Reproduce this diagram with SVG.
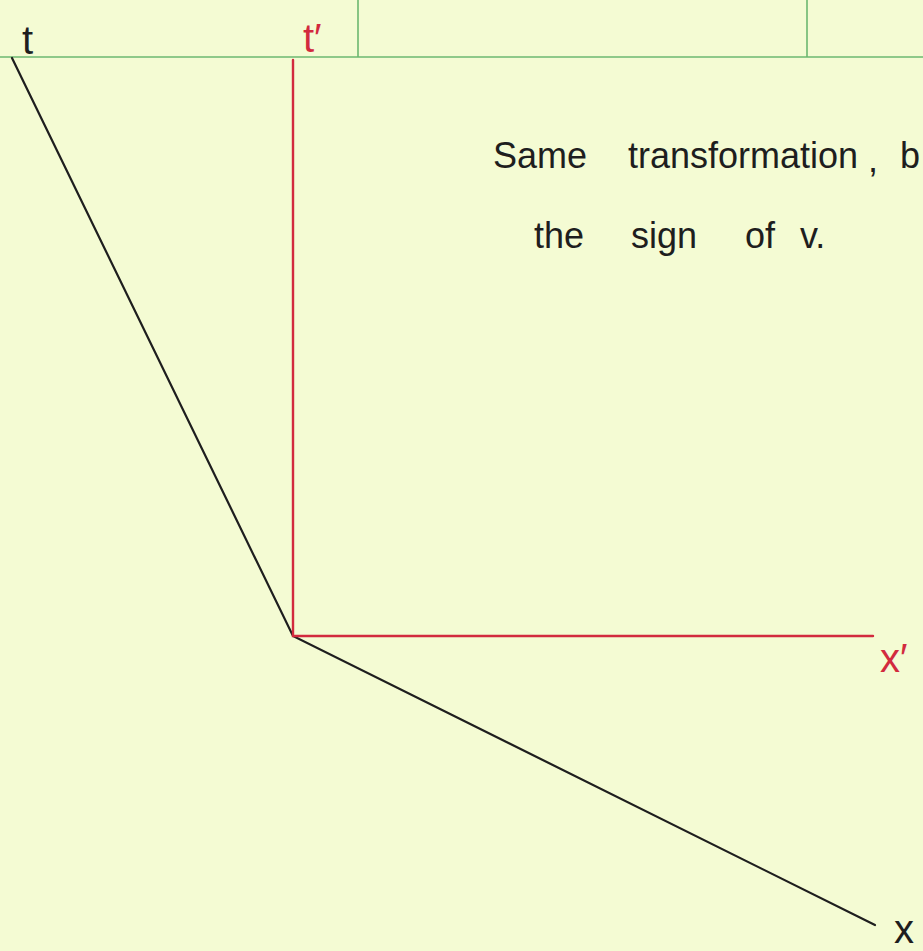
<svg xmlns="http://www.w3.org/2000/svg" width="923" height="951" viewBox="0 0 923 951">
<style>
.grid{stroke:#6cb870;stroke-width:1.6;fill:none}
.blk{stroke:#1e1e1e;stroke-width:2.2;fill:none;stroke-linecap:round}
.red{stroke:#d22a3e;stroke-width:2.4;fill:none;stroke-linecap:round}
.hw{font-family:"Liberation Sans",sans-serif;font-size:36px;fill:#1e1e1e}
.lab{font-family:"Liberation Sans",sans-serif;font-size:40px}
</style>
<rect width="923" height="951" fill="#f4fbd3"/>
<g id="paper">
<line class="grid" x1="0" y1="57" x2="923" y2="57"/>
<line class="grid" x1="358" y1="0" x2="358" y2="57"/>
<line class="grid" x1="807" y1="0" x2="807" y2="57"/>
</g>
<g id="connectors">
<polyline class="blk" points="12,58 293,636 875,925"/>
<polyline class="red" points="293,60 293,636 873,636"/>
</g>
<g id="labels">
<text id="t" class="lab" x="22" y="54" fill="#1e1e1e">t</text>
<text id="tprime" class="lab" x="303" y="52" fill="#d22a3e">t′</text>
<text id="xprime" class="lab" x="880" y="672" fill="#d22a3e">x′</text>
<text id="x" class="lab" x="894" y="943" fill="#1e1e1e">x</text>
</g>
<g id="note">
<text class="hw" x="493" y="168">Same</text>
<text class="hw" x="628" y="168">transformation</text>
<text class="hw" x="868" y="172">,</text>
<text class="hw" x="900" y="168">b</text>
<text class="hw" x="534" y="248">the</text>
<text class="hw" x="631" y="248">sign</text>
<text class="hw" x="745" y="248">of</text>
<text class="hw" x="800" y="248">v.</text>
</g>
</svg>
